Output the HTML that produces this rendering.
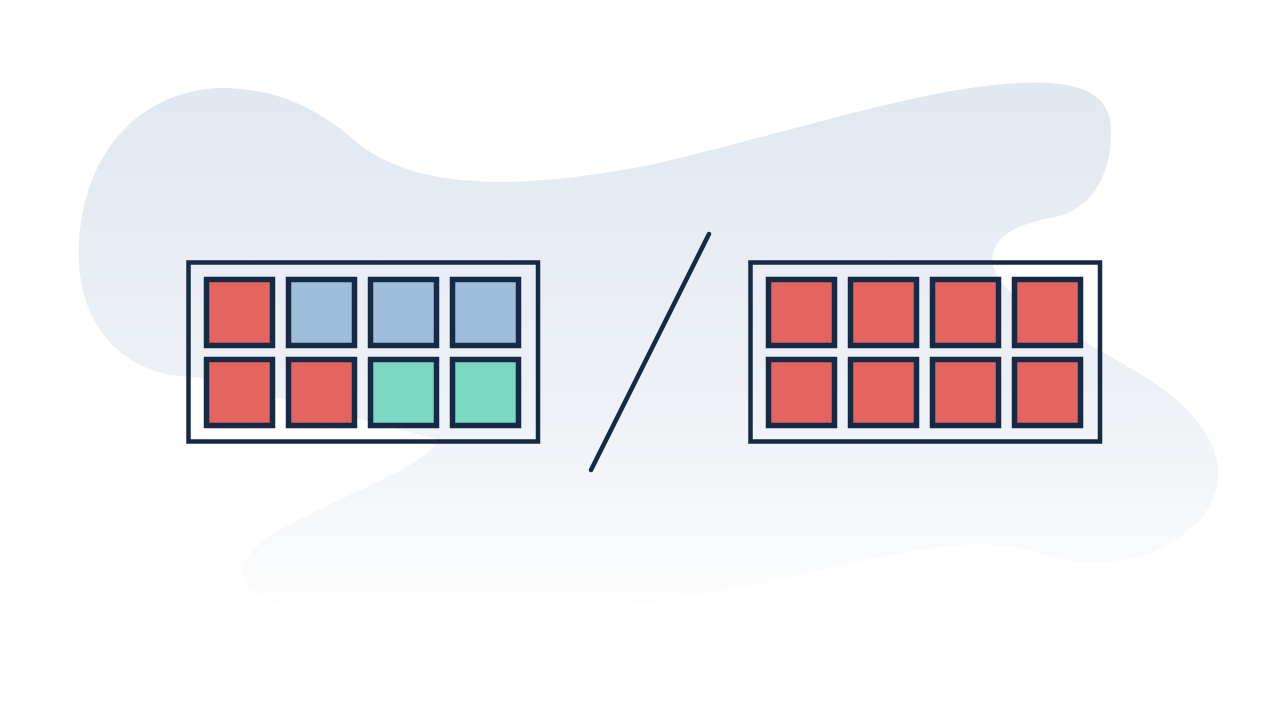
<!DOCTYPE html>
<html><head><meta charset="utf-8"><style>html,body{margin:0;padding:0;background:#fff}svg{display:block}</style></head>
<body>
<svg width="1280" height="720" viewBox="0 0 1280 720" xmlns="http://www.w3.org/2000/svg">
<defs>
<linearGradient id="g" x1="0" y1="0" x2="0" y2="1" gradientUnits="userSpaceOnUse" x1v="0">
</linearGradient>
<linearGradient id="bg" gradientUnits="userSpaceOnUse" x1="0" y1="85" x2="0" y2="630">
<stop offset="0" stop-color="#e2e8f0"/>
<stop offset="0.6" stop-color="#eef2f6"/>
<stop offset="1" stop-color="#ffffff"/>
</linearGradient>
</defs>
<path fill="url(#bg)" d="M220 88 C150 90 90 140 80 230 C72 300 100 360 170 375 L200 378 L440 440
C420 470 330 500 280 530 C230 560 220 590 300 612 C420 640 650 610 800 575
C900 552 970 535 1030 550 C1080 570 1150 570 1200 520 C1240 470 1210 420 1150 380
C1110 355 1060 330 1020 300 C975 265 985 230 1050 218 C1100 210 1115 160 1110 120
C1105 90 1070 80 1020 83 C920 88 800 130 650 165 C520 190 420 190 360 145
C320 110 280 88 220 88 Z"/>
<g fill="none" stroke="#172a45" stroke-width="4.5">
<rect x="188.5" y="262.5" width="349.5" height="179"/>
<rect x="750.5" y="262.5" width="349.5" height="179"/>
</g>
<g stroke="#172a45" stroke-width="5.5">
<rect x="206.5" y="279.5" width="66" height="66" fill="#e4645f"/>
<rect x="288.5" y="279.5" width="66" height="66" fill="#9ebedb"/>
<rect x="370.5" y="279.5" width="66" height="66" fill="#9ebedb"/>
<rect x="452.5" y="279.5" width="66" height="66" fill="#9ebedb"/>
<rect x="206.5" y="359.5" width="66" height="66" fill="#e4645f"/>
<rect x="288.5" y="359.5" width="66" height="66" fill="#e4645f"/>
<rect x="370.5" y="359.5" width="66" height="66" fill="#7ad7c1"/>
<rect x="452.5" y="359.5" width="66" height="66" fill="#7ad7c1"/>
<g fill="#e4645f">
<rect x="768.5" y="279.5" width="66" height="66"/>
<rect x="850.5" y="279.5" width="66" height="66"/>
<rect x="932.5" y="279.5" width="66" height="66"/>
<rect x="1014.5" y="279.5" width="66" height="66"/>
<rect x="768.5" y="359.5" width="66" height="66"/>
<rect x="850.5" y="359.5" width="66" height="66"/>
<rect x="932.5" y="359.5" width="66" height="66"/>
<rect x="1014.5" y="359.5" width="66" height="66"/>
</g>
</g>
<line x1="709" y1="234" x2="591" y2="470" stroke="#172a45" stroke-width="4.5" stroke-linecap="round"/>
</svg>
</body></html>
